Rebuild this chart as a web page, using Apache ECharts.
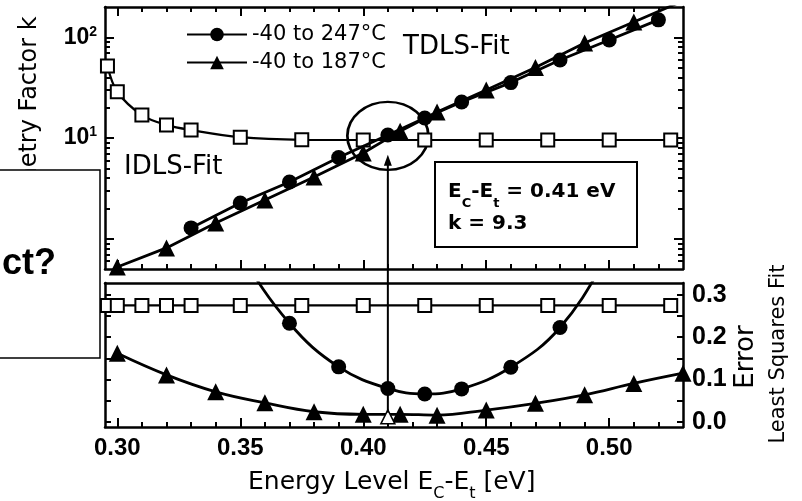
<!DOCTYPE html>
<html><head><meta charset="utf-8">
<script src="https://cdn.jsdelivr.net/npm/echarts@6/dist/echarts.min.js"></script>
<style>html,body{margin:0;padding:0;background:#fff}#c{width:802px;height:501px}</style>
</head><body><div id="c"></div>
<script>
// ---------------- data ----------------
const energyIDLS = [0.296, 0.30, 0.31, 0.32, 0.33, 0.35, 0.375, 0.40, 0.425, 0.45, 0.475, 0.50, 0.525];
const kIDLS      = [51.9, 28.8, 16.9, 13.5, 12.0, 10.2, 9.6, 9.55, 9.55, 9.55, 9.55, 9.55, 9.55];
const errIDLS    = [0.275, 0.275, 0.275, 0.275, 0.275, 0.275, 0.275, 0.275, 0.275, 0.275, 0.275, 0.275, 0.275];

const energyCircle = [0.33, 0.35, 0.37, 0.39, 0.41, 0.425, 0.44, 0.46, 0.48, 0.50, 0.52];
const kCircle      = [1.28, 2.26, 3.66, 6.4, 10.7, 15.8, 22.8, 35.5, 59.6, 94, 149];
const errCircle    = [0.62, 0.40, 0.233, 0.130, 0.079, 0.066, 0.078, 0.129, 0.223, 0.40, 0.62];

const energyTri = [0.30, 0.32, 0.34, 0.36, 0.38, 0.40, 0.415, 0.43, 0.45, 0.47, 0.49, 0.51, 0.53];
const kTri      = [0.524, 0.81, 1.43, 2.42, 4.10, 7.10, 11.7, 18.1, 30.0, 50.2, 87.7, 142, 230];
const errTri    = [0.162, 0.111, 0.071, 0.045, 0.024, 0.018, 0.018, 0.016, 0.028, 0.044, 0.064, 0.091, 0.115];

const seriesNames = ['-40 to 247°C', '-40 to 187°C'];
const bestEnergy = [0.41];
const bestErr = [0.012];
const ellipseK = [10.5];
const arrowTipK = [6.8];
const arrowStartErr = [0.022];

// axes / ticks
const xRange = [0.295, 0.53];
const kRange = [0.5, 200];
const errRange = [-0.012, 0.328];
const xMajorTicks = [0.30, 0.35, 0.40, 0.45, 0.50];
const xMinorTicks = [0.31, 0.32, 0.33, 0.34, 0.36, 0.37, 0.38, 0.39, 0.41, 0.42, 0.43, 0.44, 0.46, 0.47, 0.48, 0.49, 0.51, 0.52];
const kMajorTicks = [1, 10, 100];
const kMinorTicks = [0.6, 0.7, 0.8, 0.9, 2, 3, 4, 5, 6, 7, 8, 9, 20, 30, 40, 50, 60, 70, 80, 90];
const errTicks = [0, 0.05, 0.10, 0.15, 0.20, 0.25, 0.30];
const errLabels = [0, 0.1, 0.2, 0.3];

// ---------------- chart ----------------
const zip = (a, b) => a.map((v, i) => [v, b[i]]);
const BLACK = '#000';
const TF = 'Liberation Sans';
const SANS = 'DejaVu Sans';
const chart = echarts.init(document.getElementById('c'));

const gTop = {left: 105, top: 7, width: 578, height: 262};
const gBot = {left: 105, top: 283, width: 578, height: 144};
const aLine = {show: true, onZero: false, lineStyle: {color: BLACK, width: 2.5}};
const noLine = {show: false, onZero: false};
const off = {show: false};
const tick = (vals, len, w) => ({show: true, inside: true, length: len, customValues: vals, lineStyle: {color: BLACK, width: w || 2}});

const xAxis = [
  {type: 'value', gridIndex: 0, position: 'bottom', min: xRange[0], max: xRange[1], axisLine: aLine, axisTick: tick(xMajorTicks, 9), axisLabel: off, splitLine: off},
  {type: 'value', gridIndex: 0, position: 'top', min: xRange[0], max: xRange[1], axisLine: aLine, axisTick: tick(xMajorTicks, 9), axisLabel: off, splitLine: off},
  {type: 'value', gridIndex: 1, position: 'bottom', min: xRange[0], max: xRange[1], axisLine: aLine, axisTick: tick(xMajorTicks, 9), splitLine: off,
    axisLabel: {show: true, customValues: xMajorTicks, formatter: v => v.toFixed(2), fontFamily: TF, fontWeight: 'bold', fontSize: 24, color: BLACK, margin: 9}},
  {type: 'value', gridIndex: 1, position: 'top', min: xRange[0], max: xRange[1], axisLine: aLine, axisTick: off, axisLabel: off, splitLine: off},
  {type: 'value', gridIndex: 2, position: 'bottom', min: xRange[0], max: xRange[1], axisLine: noLine, axisTick: tick(xMinorTicks, 5), axisLabel: off, splitLine: off},
  {type: 'value', gridIndex: 2, position: 'top', min: xRange[0], max: xRange[1], axisLine: noLine, axisTick: tick(xMinorTicks, 5), axisLabel: off, splitLine: off},
  {type: 'value', gridIndex: 3, position: 'bottom', min: xRange[0], max: xRange[1], axisLine: noLine, axisTick: tick(xMinorTicks, 5), axisLabel: off, splitLine: off}
];

const yAxis = [
  {type: 'log', logBase: 10, gridIndex: 0, position: 'left', min: kRange[0], max: kRange[1], axisLine: aLine, axisTick: tick(kMajorTicks, 9), splitLine: off,
    axisLabel: {show: true, customValues: kMajorTicks, margin: 8, color: BLACK,
      formatter: v => '{b|10}{s|' + Math.round(Math.log10(v)) + '}',
      rich: {b: {fontFamily: TF, fontWeight: 'bold', fontSize: 23, lineHeight: 26, color: BLACK},
             s: {fontFamily: TF, fontWeight: 'bold', fontSize: 14, lineHeight: 14, padding: [0, 0, 11, 0], color: BLACK}}}},
  {type: 'log', logBase: 10, gridIndex: 0, position: 'right', min: kRange[0], max: kRange[1], axisLine: aLine, axisTick: tick(kMajorTicks, 9), axisLabel: off, splitLine: off},
  {type: 'value', gridIndex: 1, position: 'left', min: errRange[0], max: errRange[1], axisLine: aLine, axisTick: tick(errTicks, 6), axisLabel: off, splitLine: off},
  {type: 'value', gridIndex: 1, position: 'right', min: errRange[0], max: errRange[1], axisLine: aLine, axisTick: tick(errTicks, 6), splitLine: off,
    axisLabel: {show: true, customValues: errLabels, formatter: v => v.toFixed(1), fontFamily: TF, fontWeight: 'bold', fontSize: 25, color: BLACK, margin: 9}},
  {type: 'log', logBase: 10, gridIndex: 2, position: 'left', min: kRange[0], max: kRange[1], axisLine: noLine, axisTick: tick(kMinorTicks, 5), axisLabel: off, splitLine: off},
  {type: 'log', logBase: 10, gridIndex: 2, position: 'right', min: kRange[0], max: kRange[1], axisLine: noLine, axisTick: tick(kMinorTicks, 5), axisLabel: off, splitLine: off},
  {type: 'value', gridIndex: 3, position: 'left', min: errRange[0], max: errRange[1], show: false}
];

const sq = {symbol: 'rect', symbolSize: 13, lineStyle: {color: BLACK, width: 2.2}, itemStyle: {color: '#fff', borderColor: BLACK, borderWidth: 2, opacity: 1}};
const circ = {symbol: 'circle', symbolSize: 15, lineStyle: {color: BLACK, width: 2.8}, itemStyle: {color: BLACK, opacity: 1}};
const tri = {symbol: 'triangle', symbolSize: 17, lineStyle: {color: BLACK, width: 2.8}, itemStyle: {color: BLACK, opacity: 1}};

const series = [
  Object.assign({type: 'line', name: 'IDLS-Fit', xAxisIndex: 0, yAxisIndex: 0, data: zip(energyIDLS, kIDLS), smooth: 0.35, z: 2}, sq),
  Object.assign({type: 'line', name: seriesNames[0], xAxisIndex: 0, yAxisIndex: 0, data: zip(energyCircle, kCircle), z: 3}, circ),
  Object.assign({type: 'line', name: seriesNames[1], xAxisIndex: 0, yAxisIndex: 0, data: zip(energyTri, kTri), z: 3}, tri),
  Object.assign({type: 'line', name: 'IDLS-Fit error', xAxisIndex: 2, yAxisIndex: 2, data: zip(energyIDLS, errIDLS), z: 2}, sq),
  Object.assign({type: 'line', name: seriesNames[0], xAxisIndex: 2, yAxisIndex: 2, data: zip(energyCircle, errCircle), smooth: 0.4, z: 3}, circ),
  Object.assign({type: 'line', name: seriesNames[1], xAxisIndex: 2, yAxisIndex: 2, data: zip(energyTri, errTri), smooth: 0.4, z: 3}, tri),
  {type: 'scatter', name: 'minimum', xAxisIndex: 2, yAxisIndex: 2, data: zip(bestEnergy, bestErr), symbol: 'triangle', symbolSize: 14,
    itemStyle: {color: '#fff', borderColor: BLACK, borderWidth: 1.5, opacity: 1}, z: 6, silent: true},
  {type: 'scatter', name: 'intersection', xAxisIndex: 0, yAxisIndex: 0, data: zip(bestEnergy, ellipseK), symbol: 'circle', symbolSize: [81, 68],
    itemStyle: {color: 'rgba(0,0,0,0)', borderColor: BLACK, borderWidth: 2.5, opacity: 1}, z: 1, silent: true}
];

function graphics(extra) {
  const g = [
    {id: 'ytitle', type: 'text', x: 30, y: 130, rotation: Math.PI / 2, style: {text: 'Symmetry Factor k', font: '24px "DejaVu Sans"', fill: BLACK, align: 'center', verticalAlign: 'middle'}},
    {id: 'err1', type: 'text', x: 746, y: 357, rotation: Math.PI / 2, style: {text: 'Error', font: '26px "DejaVu Sans"', fill: BLACK, align: 'center', verticalAlign: 'middle'}},
    {id: 'err2', type: 'text', x: 779, y: 354, rotation: Math.PI / 2, style: {text: 'Least Squares Fit', font: '21px "DejaVu Sans"', fill: BLACK, align: 'center', verticalAlign: 'middle'}},
    {id: 'xtitle', type: 'text', x: 248, y: 482, style: {text: '{m|Energy Level E}{s|C}{m|-E}{s|t}{m| [eV]}', align: 'left', verticalAlign: 'middle',
      rich: {m: {fontFamily: SANS, fontSize: 25, lineHeight: 40, color: BLACK},
             s: {fontFamily: SANS, fontSize: 16, lineHeight: 16, padding: [24, 0, 0, 0], color: BLACK}}}},
    {id: 'tdls', type: 'text', x: 403, y: 47, style: {text: 'TDLS-Fit', font: '26px "DejaVu Sans"', fill: BLACK, align: 'left', verticalAlign: 'middle'}},
    {id: 'idls', type: 'text', x: 124, y: 167, style: {text: 'IDLS-Fit', font: '26px "DejaVu Sans"', fill: BLACK, align: 'left', verticalAlign: 'middle'}},
    {id: 'box', type: 'rect', shape: {x: 435, y: 162, width: 202, height: 85}, style: {fill: '#fff', stroke: BLACK, lineWidth: 2}, z: 10},
    {id: 'box1', type: 'text', x: 448, y: 192, z: 11, style: {text: '{m|E}{s|C}{m|-E}{s|t}{m| = 0.41 eV}', align: 'left', verticalAlign: 'middle',
      rich: {m: {fontFamily: SANS, fontWeight: 'bold', fontSize: 20, lineHeight: 36, color: BLACK},
             s: {fontFamily: SANS, fontWeight: 'bold', fontSize: 13, lineHeight: 13, padding: [23, 0, 0, 0], color: BLACK}}}},
    {id: 'box2', type: 'text', x: 448, y: 224, z: 11, style: {text: 'k = 9.3', font: 'bold 20px "DejaVu Sans"', fill: BLACK, align: 'left', verticalAlign: 'middle'}},
    {id: 'cover', type: 'rect', shape: {x: -2, y: 170, width: 102, height: 188}, style: {fill: '#fff', stroke: BLACK, lineWidth: 1.5}, z: 100},
    {id: 'covertext', type: 'text', x: 2, y: 264, z: 101, style: {text: 'ct?', font: 'bold 36px "Liberation Sans"', fill: BLACK, align: 'left', verticalAlign: 'middle'}}
  ];
  return g.concat(extra || []);
}

const option = {
  animation: false,
  backgroundColor: '#fff',
  grid: [Object.assign({}, gTop), Object.assign({}, gBot), Object.assign({}, gTop), Object.assign({}, gBot)],
  xAxis, yAxis, series,
  legend: {data: seriesNames, orient: 'vertical', left: 186, top: 24, itemWidth: 60, itemHeight: 17, itemGap: 7, padding: 0,
    selectedMode: false, textStyle: {fontFamily: SANS, fontSize: 21, color: BLACK}},
  graphic: graphics()
};
chart.setOption(option);

// arrow from the error minimum up to the intersection, placed through the axes' own scales
const pBot = chart.convertToPixel({xAxisIndex: 2, yAxisIndex: 2}, [bestEnergy[0], arrowStartErr[0]]);
const pTop = chart.convertToPixel({xAxisIndex: 0, yAxisIndex: 0}, [bestEnergy[0], arrowTipK[0]]);
chart.setOption({graphic: graphics([
  {id: 'arrowLine', type: 'line', shape: {x1: pBot[0], y1: pBot[1], x2: pTop[0], y2: pTop[1] + 8}, style: {stroke: BLACK, lineWidth: 2}, z: 20},
  {id: 'arrowHead', type: 'polygon', shape: {points: [[pTop[0], pTop[1]], [pTop[0] - 4, pTop[1] + 11], [pTop[0] + 4, pTop[1] + 11]]}, style: {fill: BLACK}, z: 20}
])});
</script></body></html>
